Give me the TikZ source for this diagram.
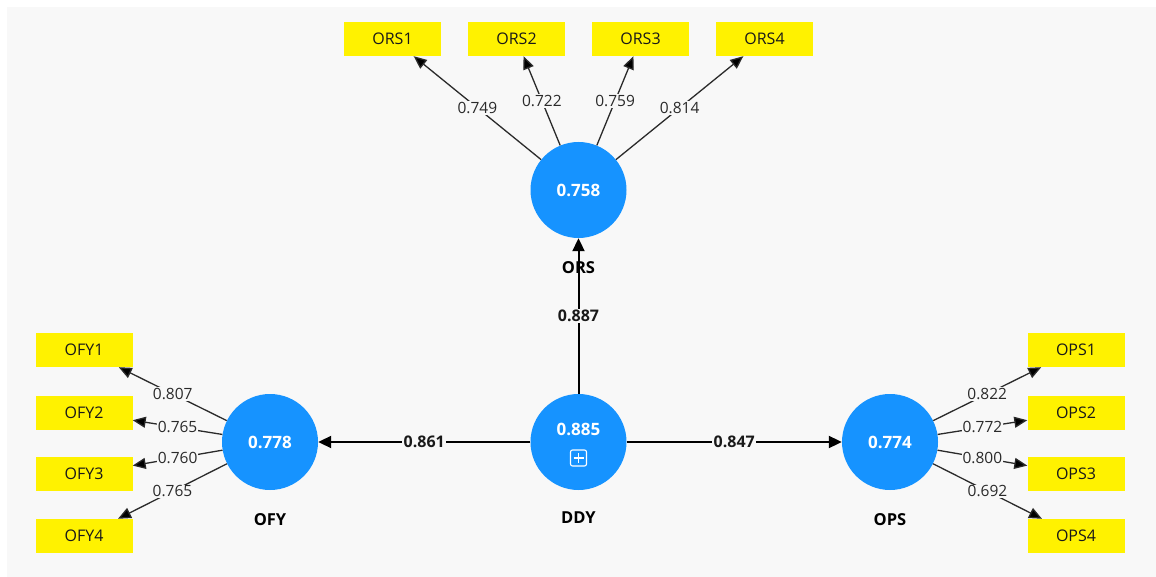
\documentclass[tikz,border=0pt]{standalone}
\usepackage{fontspec}
\setmainfont{Open Sans}
\usetikzlibrary{arrows.meta,calc}
\definecolor{bg}{HTML}{F8F8F8}
\definecolor{lv}{HTML}{1693FF}
\definecolor{ln}{HTML}{2A2A2A}
\begin{document}
\begin{tikzpicture}[x=1pt,y=-1pt,
  ind/.style={fill=yellow, minimum width=97pt, minimum height=34pt, inner sep=0pt, font=\fontsize{16}{18}\selectfont, text=black!90},
  lat/.style={circle, fill=lv, minimum size=96pt, inner sep=0pt, text=white, font=\bfseries\fontsize{17}{20}\selectfont},
  nm/.style={font=\bfseries\fontsize{16.5}{19}\selectfont, text=black},
  load/.style={draw=ln, line width=1.3pt, -{Triangle[length=13pt,width=11pt,fill=black]}},
  ll/.style={fill=bg, inner sep=1pt, font=\fontsize{15.5}{18}\selectfont, text=ln},
  strarrow/.style={draw=black, line width=2pt, -{Triangle[length=13pt,width=12pt]}},
  sl/.style={fill=bg, inner sep=1.5pt, font=\bfseries\fontsize{16}{18}\selectfont, text=black!90}
]
\useasboundingbox (0,0) rectangle (1156,577);
\fill[white] (0,0) rectangle (1156,577);
\fill[bg] (7,7) rectangle (1156,577);

% latent variables
\node[lat] (ORS) at (578.5,190) {0.758};
\node[lat] (DDY) at (578.5,442) {};
\node[lat] (OFY) at (270,442) {0.778};
\node[lat] (OPS) at (890,442) {0.774};
\node[text=white, font=\bfseries\fontsize{17}{20}\selectfont] (DDYv) at (578.5,429) {0.885};
\coordinate (plus) at (578.5,458);
\draw[white, line width=1.1pt, rounded corners=2pt] ($(plus)+(-8,-8)$) rectangle ($(plus)+(8,8)$);
\draw[white, line width=1.1pt] ($(plus)+(-5,0)$) -- ($(plus)+(5,0)$) ($(plus)+(0,-5)$) -- ($(plus)+(0,5)$);

% names
\node[nm] (ORSn) at (578.5,268) {ORS};
\node[nm] (DDYn) at (578.5,518) {DDY};
\node[nm] (OFYn) at (270,520) {OFY};
\node[nm] (OPSn) at (890,520) {OPS};

% indicators
\node[ind] (ORS1) at (392.5,39) {ORS1};
\node[ind] (ORS2) at (516.5,39) {ORS2};
\node[ind] (ORS3) at (640.5,39) {ORS3};
\node[ind] (ORS4) at (764.5,39) {ORS4};
\node[ind] (OFY1) at (84,350) {OFY1};
\node[ind] (OFY2) at (84,412.5) {OFY2};
\node[ind] (OFY3) at (84,474) {OFY3};
\node[ind] (OFY4) at (84,536) {OFY4};
\node[ind] (OPS1) at (1076,350) {OPS1};
\node[ind] (OPS2) at (1076,412.5) {OPS2};
\node[ind] (OPS3) at (1076,474) {OPS3};
\node[ind] (OPS4) at (1076,536) {OPS4};

% loadings
\draw[load] (ORS) -- node[ll] {0.749} (ORS1);
\draw[load] (ORS) -- node[ll] {0.722} (ORS2);
\draw[load] (ORS) -- node[ll] {0.759} (ORS3);
\draw[load] (ORS) -- node[ll] {0.814} (ORS4);
\draw[load] (OFY) -- node[ll] {0.807} (OFY1);
\draw[load] (OFY) -- node[ll] {0.765} (OFY2);
\draw[load] (OFY) -- node[ll] {0.760} (OFY3);
\draw[load] (OFY) -- node[ll] {0.765} (OFY4);
\draw[load] (OPS) -- node[ll] {0.822} (OPS1);
\draw[load] (OPS) -- node[ll] {0.772} (OPS2);
\draw[load] (OPS) -- node[ll] {0.800} (OPS3);
\draw[load] (OPS) -- node[ll] {0.692} (OPS4);

% structural paths
\draw[strarrow] (DDY) -- node[sl] {0.887} (ORS);
\draw[strarrow] (DDY) -- node[sl] {0.861} (OFY);
\draw[strarrow] (DDY) -- node[sl] {0.847} (OPS);
\end{tikzpicture}
\end{document}
